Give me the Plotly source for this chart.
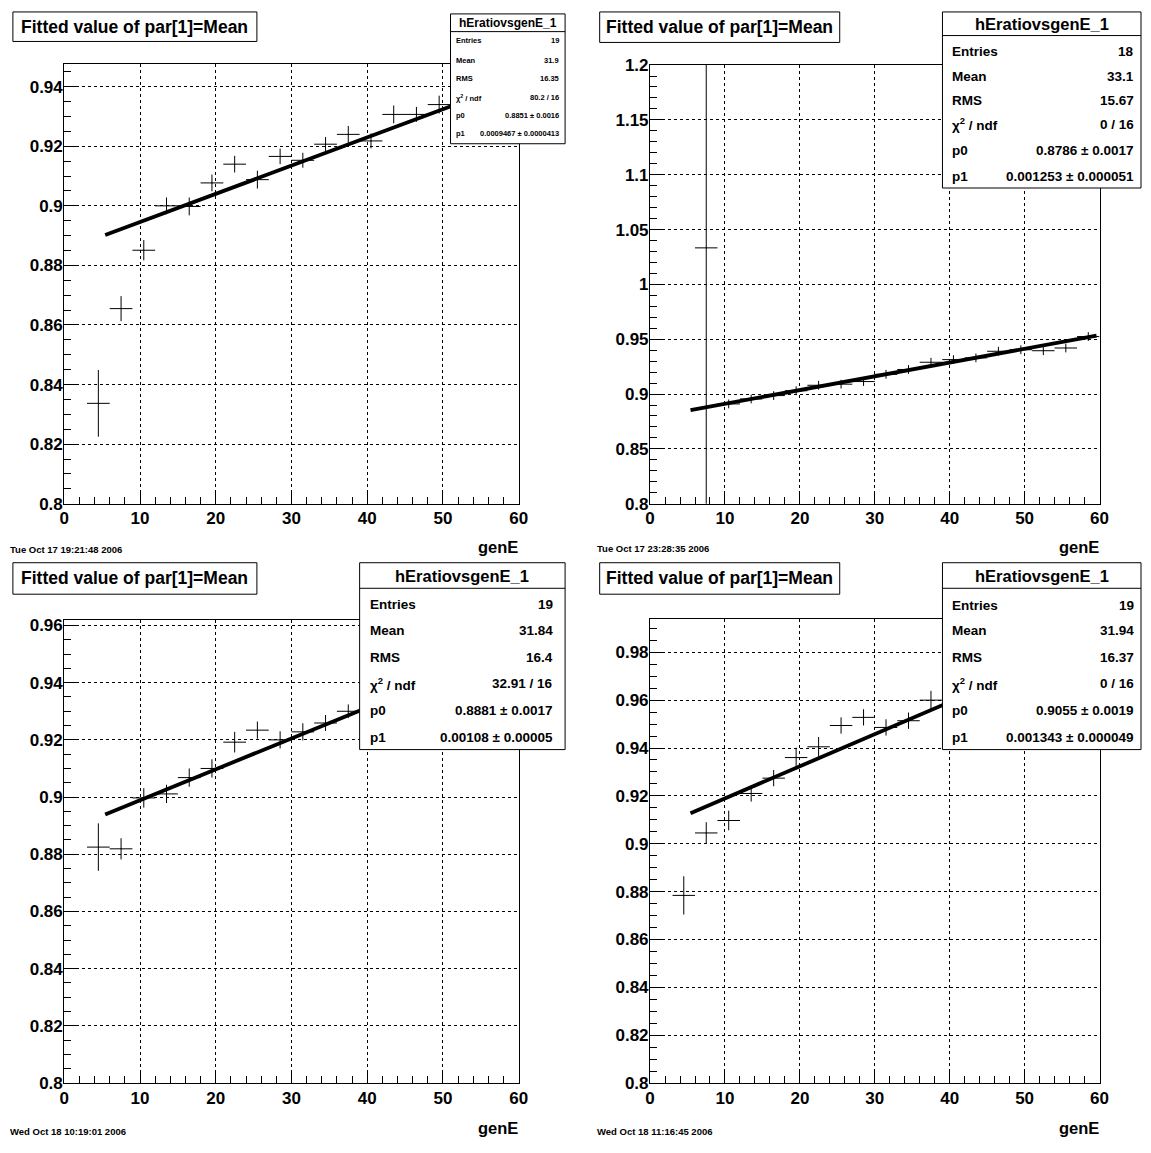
import plotly.graph_objects as go

W, H = 1151, 1153

# ---------------- data ----------------
gen_e_1 = [4.5, 7.5, 10.5, 13.5, 16.5, 19.5, 22.5, 25.5, 28.5, 31.5, 34.5, 37.5, 40.5, 43.5, 46.5, 49.5]
ratio_1 = [0.8337, 0.8655, 0.8851, 0.9000, 0.8998, 0.9077, 0.9140, 0.9088, 0.9166, 0.9153, 0.9207, 0.9240,
           0.9218, 0.9307, 0.9307, 0.9340]
err_1 = [0.0112, 0.0042, 0.0034, 0.0028, 0.0030, 0.0028, 0.0028, 0.0030, 0.0026, 0.0025, 0.0024, 0.0028,
         0.0025, 0.0030, 0.0025, 0.0030]

gen_e_2 = [7.5, 10.5, 13.5, 16.5, 19.5, 22.5, 25.5, 28.5, 31.5, 34.5, 37.5, 40.5, 43.5, 46.5, 49.5, 52.5,
           55.5, 58.5]
ratio_2 = [1.0333, 0.8910, 0.8955, 0.8986, 0.9030, 0.9080, 0.9090, 0.9114, 0.9180, 0.9224, 0.9290, 0.9314,
           0.9330, 0.9390, 0.9404, 0.9395, 0.9420, 0.9524]
err_2 = [0.3000, 0.0040, 0.0040, 0.0040, 0.0040, 0.0040, 0.0040, 0.0040, 0.0040, 0.0040, 0.0040, 0.0040,
         0.0040, 0.0040, 0.0040, 0.0040, 0.0040, 0.0040]

gen_e_3 = [4.5, 7.5, 10.5, 13.5, 16.5, 19.5, 22.5, 25.5, 28.5, 31.5, 34.5, 37.5]
ratio_3 = [0.8825, 0.8819, 0.8997, 0.9011, 0.9068, 0.9100, 0.9192, 0.9234, 0.9200, 0.9228, 0.9259, 0.9300]
err_3 = [0.0083, 0.0037, 0.0034, 0.0032, 0.0032, 0.0032, 0.0036, 0.0030, 0.0030, 0.0030, 0.0028, 0.0024]

gen_e_4 = [4.5, 7.5, 10.5, 13.5, 16.5, 19.5, 22.5, 25.5, 28.5, 31.5, 34.5, 37.5]
ratio_4 = [0.8784, 0.9045, 0.9097, 0.9210, 0.9274, 0.9360, 0.9405, 0.9494, 0.9528, 0.9486, 0.9514, 0.9600]
err_4 = [0.0080, 0.0045, 0.0041, 0.0034, 0.0034, 0.0041, 0.0041, 0.0034, 0.0034, 0.0034, 0.0034, 0.0039]

bin_half_width = 1.5

# pol1 fit results: mean = p0 + p1 * genE
fit_p0 = [0.8851, 0.8786, 0.8881, 0.9055]
fit_p1 = [0.0009467, 0.001253, 0.00108, 0.001343]
fit_range = [5.4, 59.6]

hist_name = "hEratiovsgenE_1"
pad_title = "Fitted value of par[1]=Mean"
x_title = "genE"
stat_labels = ["Entries", "Mean", "RMS", "χ<sup>2</sup> / ndf", "p0", "p1"]
stat_entries = ["19", "18", "19", "19"]
stat_mean = ["31.9", "33.1", "31.84", "31.94"]
stat_rms = ["16.35", "15.67", "16.4", "16.37"]
stat_chi2 = ["80.2 / 16", "0 / 16", "32.91 / 16", "0 / 16"]
stat_p0 = ["0.8851 ± 0.0016", "0.8786 ± 0.0017", "0.8881 ± 0.0017", "0.9055 ± 0.0019"]
stat_p1 = ["0.0009467 ± 0.0000413", "0.001253 ± 0.000051", "0.00108 ± 0.00005", "0.001343 ± 0.000049"]
timestamps = ["Tue Oct 17 19:21:48 2006", "Tue Oct 17 23:28:35 2006",
              "Wed Oct 18 10:19:01 2006", "Wed Oct 18 11:16:45 2006"]

y_ranges = [(0.8, 0.9476), (0.8, 1.2), (0.8, 0.962), (0.8, 0.994)]
y_major = [0.02, 0.05, 0.02, 0.02]
y_minor = [0.005, 0.01, 0.005, 0.005]
x_range = (0, 60)

points = [(gen_e_1, ratio_1, err_1), (gen_e_2, ratio_2, err_2),
          (gen_e_3, ratio_3, err_3), (gen_e_4, ratio_4, err_4)]

# ---------------- pad geometry (pixels) ----------------
FONT = "Liberation Sans, Arial, Helvetica, sans-serif"

pads = [
    dict(frame=(60, 56, 520, 503), title=(8, 3, 255, 33),
         stat=(451, 5, 567, 137), sep=23, head_y=14, rows=[32, 52, 71, 90, 108, 127],
         lab_x=455, val_x=563, head_size=12, row_size=7.5,
         date=(3, 550), gene=(521, 547)),
    dict(frame=(653, 57, 1108, 503), title=(602, 3, 845, 34),
         stat=(949, 3, 1150, 182), sep=27, head_y=15, rows=[43, 69, 93, 117, 144, 170],
         lab_x=957, val_x=1145, head_size=16.5, row_size=13.5,
         date=(597, 549), gene=(1109, 547)),
    dict(frame=(60, 621, 520, 1092), title=(8, 563, 255, 595),
         stat=(359, 563, 567, 753), sep=589, head_y=577, rows=[605, 632, 659, 686, 713, 741],
         lab_x=367, val_x=557, head_size=16.5, row_size=13.5,
         date=(3, 1141), gene=(521, 1138)),
    dict(frame=(653, 620, 1108, 1092), title=(602, 563, 845, 595),
         stat=(949, 563, 1150, 753), sep=589, head_y=577, rows=[606, 632, 659, 686, 713, 741],
         lab_x=957, val_x=1145, head_size=16.5, row_size=13.5,
         date=(597, 1141), gene=(1109, 1138)),
]


def fx(px):
    return px / W


def fy(py):
    return 1 - py / H


fig = go.Figure()
shapes = []
annotations = []

for i, pad in enumerate(pads):
    n = "" if i == 0 else str(i + 1)
    xa, ya = "x" + n, "y" + n
    x0, y0, x1, y1 = pad["frame"]
    gx, gy, ge = points[i]

    # data points with bin-width and statistical error bars
    fig.add_trace(go.Scatter(
        x=gx, y=gy, mode="markers", xaxis=xa, yaxis=ya, showlegend=False,
        marker=dict(size=1, color="black"),
        error_x=dict(type="constant", value=bin_half_width, width=0, thickness=1, color="black"),
        error_y=dict(type="data", array=ge, width=0, thickness=1, color="black"),
        hoverinfo="x+y",
    ))

    # linear fit
    fit_x = list(fit_range)
    fit_y = [fit_p0[i] + fit_p1[i] * v for v in fit_x]
    fig.add_trace(go.Scatter(
        x=fit_x, y=fit_y, mode="lines", xaxis=xa, yaxis=ya, showlegend=False,
        line=dict(color="black", width=3.8),
    ))

    axis_common = dict(
        showline=True, linecolor="black", linewidth=1.2, mirror=True,
        showgrid=True, gridcolor="black", gridwidth=1, griddash="3px,3px",
        zeroline=False, ticks="inside", ticklen=13, tickwidth=1, tickcolor="black",
        tickfont=dict(family=FONT, size=17, color="black", weight="bold"),
    )
    fig.layout["xaxis" + n] = dict(
        axis_common, domain=[fx(x0), fx(x1)], range=list(x_range), dtick=10, tick0=0,
        anchor=ya, ticklabelstandoff=-1,
        minor=dict(ticks="inside", ticklen=7, dtick=2, tickcolor="black", showgrid=False),
    )
    fig.layout["yaxis" + n] = dict(
        axis_common, domain=[fy(y1), fy(y0)], range=list(y_ranges[i]), dtick=y_major[i],
        tick0=0.8, anchor=xa, ticklabelstandoff=-3,
        minor=dict(ticks="inside", ticklen=7, dtick=y_minor[i], tickcolor="black", showgrid=False),
    )

    # pad title box
    tx0, ty0, tx1, ty1 = pad["title"]
    shapes.append(dict(type="rect", xref="paper", yref="paper", x0=fx(tx0), x1=fx(tx1),
                       y0=fy(ty1), y1=fy(ty0), line=dict(color="black", width=1),
                       fillcolor="white", layer="above"))
    annotations.append(dict(xref="paper", yref="paper", x=fx((tx0 + tx1) / 2), y=fy((ty0 + ty1) / 2),
                            text=pad_title, showarrow=False, xanchor="center", yanchor="middle",
                            font=dict(family=FONT, size=17.5, color="black", weight="bold")))

    # statistics box
    sx0, sy0, sx1, sy1 = pad["stat"]
    shapes.append(dict(type="rect", xref="paper", yref="paper", x0=fx(sx0), x1=fx(sx1),
                       y0=fy(sy1), y1=fy(sy0), line=dict(color="black", width=1),
                       fillcolor="white", layer="above"))
    shapes.append(dict(type="line", xref="paper", yref="paper", x0=fx(sx0), x1=fx(sx1),
                       y0=fy(pad["sep"]), y1=fy(pad["sep"]), line=dict(color="black", width=1),
                       layer="above"))
    annotations.append(dict(xref="paper", yref="paper", x=fx((sx0 + sx1) / 2), y=fy(pad["head_y"]),
                            text=hist_name, showarrow=False, xanchor="center", yanchor="middle",
                            font=dict(family=FONT, size=pad["head_size"], color="black", weight="bold")))
    values = [stat_entries[i], stat_mean[i], stat_rms[i], stat_chi2[i], stat_p0[i], stat_p1[i]]
    for lab, val, ry in zip(stat_labels, values, pad["rows"]):
        f = dict(family=FONT, size=pad["row_size"], color="black", weight="bold")
        annotations.append(dict(xref="paper", yref="paper", x=fx(pad["lab_x"]), y=fy(ry), text=lab,
                                showarrow=False, xanchor="left", yanchor="middle", font=f))
        annotations.append(dict(xref="paper", yref="paper", x=fx(pad["val_x"]), y=fy(ry), text=val,
                                showarrow=False, xanchor="right", yanchor="middle", font=f))

    # time stamp and x-axis title
    dx, dy = pad["date"]
    annotations.append(dict(xref="paper", yref="paper", x=fx(dx), y=fy(dy), text=timestamps[i],
                            showarrow=False, xanchor="left", yanchor="middle",
                            font=dict(family=FONT, size=9.5, color="black", weight="bold")))
    gx_, gy_ = pad["gene"]
    annotations.append(dict(xref="paper", yref="paper", x=fx(gx_), y=fy(gy_), text=x_title,
                            showarrow=False, xanchor="right", yanchor="middle",
                            font=dict(family=FONT, size=16.5, color="black", weight="bold")))

fig.update_layout(
    width=W, height=H, margin=dict(l=0, r=0, t=0, b=0),
    paper_bgcolor="white", plot_bgcolor="white",
    shapes=shapes, annotations=annotations, showlegend=False,
)

fig.write_html("out.html")
